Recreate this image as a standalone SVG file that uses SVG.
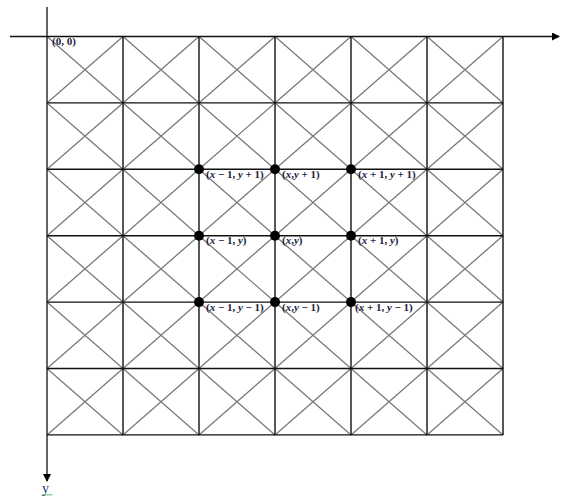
<svg xmlns="http://www.w3.org/2000/svg" width="569" height="498" viewBox="0 0 569 498">
<style>
.g{stroke:#111;stroke-width:1.4;fill:none}
.d{stroke:#7a7a7a;stroke-width:1.3;fill:none}
.ax{stroke:#111;stroke-width:1.3;fill:none}
.lb{font-family:"Liberation Serif",serif;font-size:11px;font-weight:bold;fill:#1c1c3c}
.lb tspan.i{font-style:italic}
.pt{fill:#000}
</style>
<defs>
<marker id="ah" markerWidth="8" markerHeight="8" refX="7" refY="4" orient="auto" markerUnits="userSpaceOnUse">
<path d="M0,0 L8,4 L0,8 Z" fill="#000"/>
</marker>
</defs>
<rect width="569" height="498" fill="#fff"/>
<g id="diagonals">
<path class="d" d="M47,36.5L123,102.9M123,36.5L47,102.9M123,36.5L199,102.9M199,36.5L123,102.9M199,36.5L275,102.9M275,36.5L199,102.9M275,36.5L351,102.9M351,36.5L275,102.9M351,36.5L427,102.9M427,36.5L351,102.9M427,36.5L503,102.9M503,36.5L427,102.9"/>
<path class="d" d="M47,102.9L123,169.3M123,102.9L47,169.3M123,102.9L199,169.3M199,102.9L123,169.3M199,102.9L275,169.3M275,102.9L199,169.3M275,102.9L351,169.3M351,102.9L275,169.3M351,102.9L427,169.3M427,102.9L351,169.3M427,102.9L503,169.3M503,102.9L427,169.3"/>
<path class="d" d="M47,169.3L123,235.7M123,169.3L47,235.7M123,169.3L199,235.7M199,169.3L123,235.7M199,169.3L275,235.7M275,169.3L199,235.7M275,169.3L351,235.7M351,169.3L275,235.7M351,169.3L427,235.7M427,169.3L351,235.7M427,169.3L503,235.7M503,169.3L427,235.7"/>
<path class="d" d="M47,235.7L123,302.1M123,235.7L47,302.1M123,235.7L199,302.1M199,235.7L123,302.1M199,235.7L275,302.1M275,235.7L199,302.1M275,235.7L351,302.1M351,235.7L275,302.1M351,235.7L427,302.1M427,235.7L351,302.1M427,235.7L503,302.1M503,235.7L427,302.1"/>
<path class="d" d="M47,302.1L123,368.5M123,302.1L47,368.5M123,302.1L199,368.5M199,302.1L123,368.5M199,302.1L275,368.5M275,302.1L199,368.5M275,302.1L351,368.5M351,302.1L275,368.5M351,302.1L427,368.5M427,302.1L351,368.5M427,302.1L503,368.5M503,302.1L427,368.5"/>
<path class="d" d="M47,368.5L123,434.9M123,368.5L47,434.9M123,368.5L199,434.9M199,368.5L123,434.9M199,368.5L275,434.9M275,368.5L199,434.9M275,368.5L351,434.9M351,368.5L275,434.9M351,368.5L427,434.9M427,368.5L351,434.9M427,368.5L503,434.9M503,368.5L427,434.9"/>
</g>
<g id="grid">
<path class="g" d="M123,36.5V434.9M199,36.5V434.9M275,36.5V434.9M351,36.5V434.9M427,36.5V434.9M503,36.5V434.9"/>
<path class="g" d="M47,102.9H503M47,169.3H503M47,235.7H503M47,302.1H503M47,368.5H503M47,434.9H503"/>
</g>
<g id="axes">
<line class="ax" x1="10" y1="36.5" x2="559" y2="36.5" marker-end="url(#ah)"/>
<line class="ax" x1="47" y1="7" x2="47" y2="481" marker-end="url(#ah)"/>
</g>
<g id="axis-labels">
<text x="42" y="493" font-family="Liberation Serif,serif" font-size="14" fill="#1f3f7a">y</text>
<path d="M42,495.5 l1.5,-1.5 l1.5,1.5 l1.5,-1.5 l1.5,1.5 l1.5,-1.5 l1.5,1.5 l1.5,-1.5" stroke="#3a9a3a" stroke-width="0.8" fill="none"/>
<text class="lb" x="52" y="44.5">(0, 0)</text>
</g>
<g id="labels">
<text class="lb" x="206" y="177.5">(<tspan class="i">x</tspan> − 1, <tspan class="i">y</tspan> + 1)</text>
<text class="lb" x="282" y="177.5">(<tspan class="i">x</tspan>,<tspan class="i">y</tspan> + 1)</text>
<text class="lb" x="358" y="177.5">(<tspan class="i">x</tspan> + 1, <tspan class="i">y</tspan> + 1)</text>
<text class="lb" x="206" y="244">(<tspan class="i">x</tspan> − 1, <tspan class="i">y</tspan>)</text>
<text class="lb" x="282" y="244">(<tspan class="i">x</tspan>,<tspan class="i">y</tspan>)</text>
<text class="lb" x="358" y="244">(<tspan class="i">x</tspan> + 1, <tspan class="i">y</tspan>)</text>
<text class="lb" x="206" y="310.5">(<tspan class="i">x</tspan> − 1, <tspan class="i">y</tspan> − 1)</text>
<text class="lb" x="282" y="310.5">(<tspan class="i">x</tspan>,<tspan class="i">y</tspan> − 1)</text>
<text class="lb" x="355" y="310.5">(<tspan class="i">x</tspan> + 1, <tspan class="i">y</tspan> − 1)</text>
</g>
<g id="points">
<circle id="p-m1-p1" class="pt" cx="199" cy="169.3" r="5"/>
<circle id="p-0-p1" class="pt" cx="275" cy="169.3" r="5"/>
<circle id="p-p1-p1" class="pt" cx="351" cy="169.3" r="5"/>
<circle id="p-m1-0" class="pt" cx="199" cy="235.7" r="5"/>
<circle id="p-0-0" class="pt" cx="275" cy="235.7" r="5"/>
<circle id="p-p1-0" class="pt" cx="351" cy="235.7" r="5"/>
<circle id="p-m1-m1" class="pt" cx="199" cy="302.1" r="5"/>
<circle id="p-0-m1" class="pt" cx="275" cy="302.1" r="5"/>
<circle id="p-p1-m1" class="pt" cx="351" cy="302.1" r="5"/>
</g>
</svg>
